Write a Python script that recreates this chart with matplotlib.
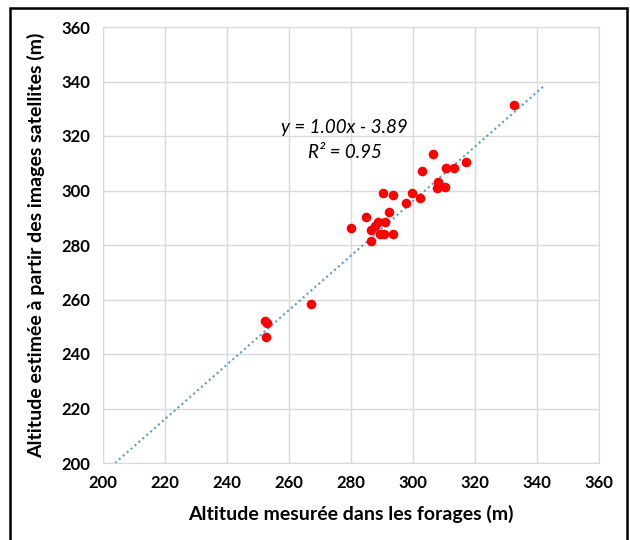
import matplotlib
matplotlib.use("Agg")
import matplotlib.pyplot as plt
from matplotlib.patches import Rectangle

# Altitudes mesurées (forages) et estimées (images satellites), en m
alt_forages = [332.7, 306.4, 303.0, 310.7, 313.1, 317.1, 308.0, 307.8, 310.4,
               299.7, 290.2, 293.6, 302.4, 297.8, 292.2, 284.7, 291.1, 288.7,
               287.9, 286.6, 280.0, 289.2, 290.8, 293.5, 286.4,
               267.1, 252.3, 253.0, 252.7]
alt_satellite = [331.3, 313.3, 307.2, 308.2, 308.2, 310.3, 303.3, 301.1, 301.3,
                 299.2, 299.2, 298.2, 297.1, 295.3, 292.2, 290.3, 288.4, 288.4,
                 287.0, 285.5, 286.4, 284.2, 284.2, 284.2, 281.3,
                 258.3, 252.2, 251.3, 246.3]

# courbe de tendance linéaire (Excel)
pente = 1.00
ordonnee = -3.89
tendance_x = [203.89, 342.0]
tendance_y = [pente * x + ordonnee for x in tendance_x]

graduations = list(range(200, 361, 20))

plt.rcParams['font.family'] = ['Lato', 'DejaVu Sans']

fig = plt.figure(figsize=(6.3, 5.4), dpi=100)
ax = fig.add_axes([103 / 630, 1 - 463 / 540, 496 / 630, 436 / 540])

ax.plot(tendance_x, tendance_y, linestyle=(0, (1, 1.5)), color='#5b9bd5',
        linewidth=1.5, zorder=2)
ax.scatter(alt_forages, alt_satellite, s=48, color='#ff0000', zorder=3,
           linewidths=0)

ax.set_xlim(200, 360)
ax.set_ylim(200, 360)
ax.set_xticks(graduations)
ax.set_yticks(graduations)
ax.grid(True, color='#d9d9d9', linewidth=1)
ax.set_axisbelow(True)
for s in ax.spines.values():
    s.set_color('#d9d9d9')
ax.tick_params(length=0, labelsize=12, pad=9)
for lab in ax.get_xticklabels() + ax.get_yticklabels():
    lab.set_fontweight('bold')

ax.set_xlabel("Altitude mesurée dans les forages (m)", fontsize=14,
              fontweight='bold', labelpad=10)
ax.set_ylabel("Altitude estimée à partir des images satellites (m)",
              fontsize=14, fontweight='bold', labelpad=12)

ax.text(278, 323.2, "y = 1.00x - 3.89", fontsize=13.5, style='italic',
        ha='center', va='center')
ax.text(278, 314, "R² = 0.95", fontsize=13.5, style='italic',
        ha='center', va='center')

# cadre autour de la figure
fig.patches.append(Rectangle((10 / 630, -0.01), 617 / 630, 1 - 8 / 540 + 0.01,
                             transform=fig.transFigure, fill=False,
                             edgecolor='black', linewidth=1.8))

fig.savefig("out.png", dpi=100)
